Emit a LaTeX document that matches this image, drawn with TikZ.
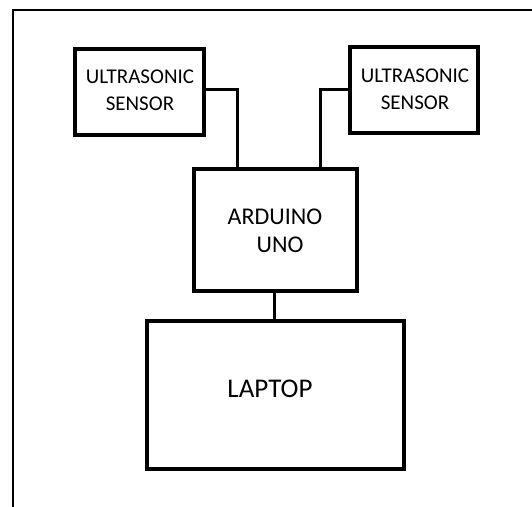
\documentclass[tikz,border=0pt]{standalone}
\usepackage{fontspec}
\setmainfont{Carlito}
\begin{document}
\begin{tikzpicture}[x=1pt,y=-1pt,
  box/.style={draw,line width=3.2pt,inner sep=0pt,align=center},
  wire/.style={line width=3pt},
  frame/.style={line width=2pt}]
\useasboundingbox (0,0) rectangle (532,506);
\fill[white] (0,0) rectangle (532,506);
% outer frame (top and left only)
\coordinate (fbl) at (13,507);
\coordinate (ftl) at (13,10);
\coordinate (ftr) at (533,10);
\draw[frame] (fbl) -- (ftl) -- (ftr);
% boxes
\node[box,minimum width=129pt,minimum height=86pt] (s1) at (139.5,92) {};
\node[box,minimum width=128pt,minimum height=86pt] (s2) at (414,90) {};
\node[box,minimum width=163pt,minimum height=122pt] (ard) at (275.5,230) {};
\node[box,minimum width=257pt,minimum height=148pt] (lap) at (275.5,395) {};
% texts
\node[font=\fontsize{21}{27}\selectfont,align=center] (t1) at (140,90.5) {ULTRASONIC\\SENSOR};
\node[font=\fontsize{21}{27}\selectfont,align=center] (t2) at (415,89) {ULTRASONIC\\SENSOR};
\node[font=\fontsize{24}{28}\selectfont,align=center] (t3) at (275,231) {ARDUINO\\\hspace*{10pt}UNO};
\node[font=\fontsize{27}{30}\selectfont] (t4) at (270,389) {LAPTOP};
% connectors
\coordinate (c1) at (237,89);
\coordinate (c2) at (320,89);
\draw[wire] (s1.east |- c1) -- (c1) -- (c1 |- ard.north);
\draw[wire] (s2.west |- c2) -- (c2) -- (c2 |- ard.north);
\draw[wire] (ard.south) ++(-1.5,0) coordinate (a0) -- (a0 |- lap.north);
\end{tikzpicture}
\end{document}
